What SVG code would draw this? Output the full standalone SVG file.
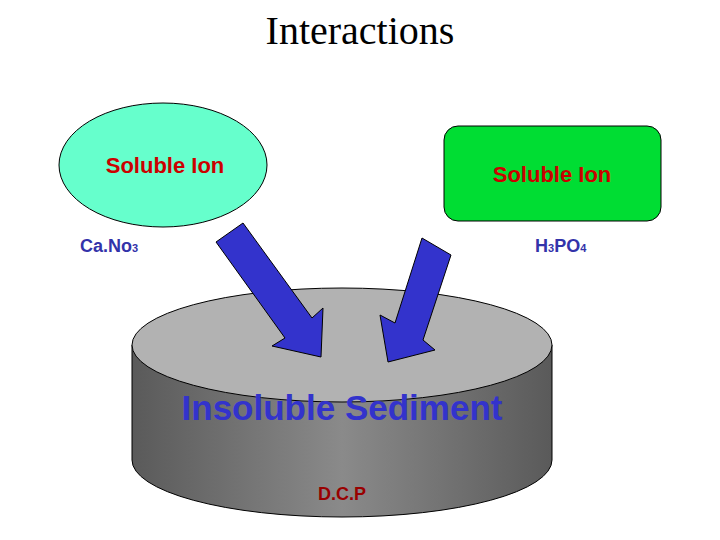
<svg xmlns="http://www.w3.org/2000/svg" width="720" height="540" viewBox="0 0 720 540">
<style>
.lbl{font-family:"Liberation Sans",Arial,sans-serif;font-weight:bold}
.s{stroke:#000;stroke-width:1}
</style>
<defs>
<linearGradient id="g" x1="0" x2="1" y1="0" y2="0">
<stop offset="0" stop-color="#5a5a5a"/><stop offset="0.5" stop-color="#8a8a8a"/><stop offset="1" stop-color="#5a5a5a"/>
</linearGradient>
</defs>
<rect width="720" height="540" fill="#fff"/>
<text x="360" y="44" text-anchor="middle" font-family="Liberation Serif,serif" font-size="40">Interactions</text>
<g id="sediment">
<path class="s" d="M132,345 L132,460 A210,57 0 0 0 552,460 L552,345 Z" fill="url(#g)"/>
<ellipse class="s" cx="342" cy="345" rx="210" ry="57" fill="#b2b2b2"/>
<text class="lbl" x="342" y="420" text-anchor="middle" font-size="35" fill="#3333cc">Insoluble Sediment</text>
<text class="lbl" x="342" y="500" text-anchor="middle" font-size="18" fill="#990000">D.C.P</text>
</g>
<g id="ion1">
<ellipse class="s" cx="163" cy="165" rx="104" ry="62" fill="#66ffcc"/>
<text class="lbl" x="165" y="173" text-anchor="middle" font-size="22" fill="#cc0000">Soluble Ion</text>
<text class="lbl" x="80" y="252" font-size="18" fill="#3333aa">Ca.No<tspan font-size="11">3</tspan></text>
</g>
<g id="ion2">
<rect class="s" x="444" y="126" width="217" height="95" rx="14" fill="#00dd33"/>
<text class="lbl" x="552" y="182" text-anchor="middle" font-size="22" fill="#cc0000">Soluble Ion</text>
<text class="lbl" x="535" y="252" font-size="18" fill="#3333aa">H<tspan font-size="11">3</tspan>PO<tspan font-size="11">4</tspan></text>
</g>
<g id="connectors">
<polygon class="s" fill="#3333cc" points="216,242 243,223 312,318 323,308 321,357 272,346 285,338"/>
<polygon class="s" fill="#3333cc" points="451,255 422,238 395,323 380,315 388,362 435,350 423,340"/>
</g>
</svg>
